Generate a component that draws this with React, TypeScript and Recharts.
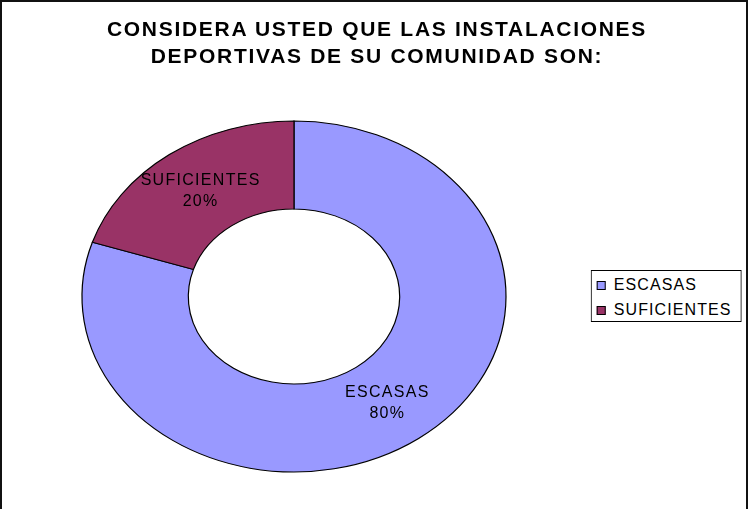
// Donut chart: "Considera usted que las instalaciones deportivas de su comunidad son"
// The original is an Excel-style stretched (elliptical) donut, so the pie is
// drawn as a circle and the chart wrapper is stretched horizontally; text is
// counter-scaled so it keeps its normal proportions.

import { Legend, Pie, PieChart, Cell } from "recharts";

const TITLE_LINES = [
  "CONSIDERA USTED QUE LAS INSTALACIONES",
  "DEPORTIVAS DE SU COMUNIDAD SON:",
];
const CATEGORIES = ["ESCASAS", "SUFICIENTES"];
const PERCENTS = [80, 20];
const COLORS = ["#9999FF", "#993366"];

const FONT = "'Liberation Sans', Arial, sans-serif";
// horizontal stretch of the ellipse (rx / ry)
const K = 212 / 175.5;
const WIDTH = 749;
const HEIGHT = 509;
const MARGIN = { top: 0, right: 0, bottom: 0, left: 0 };

const data = CATEGORIES.map((name, i) => ({
  name,
  value: PERCENTS[i],
  color: COLORS[i],
}));

function SliceLabel(props: any) {
  const { cx, cy, midAngle, innerRadius, outerRadius, name, value } = props;
  const r = (innerRadius + outerRadius) / 2;
  const rad = Math.PI / 180;
  const x = cx + r * Math.cos(-midAngle * rad);
  const y = cy + r * Math.sin(-midAngle * rad);
  return (
    <g transform={`translate(${x},${y}) scale(${1 / K},1)`}>
      <text
        textAnchor="middle"
        fontFamily={FONT}
        fontSize={16}
        letterSpacing={1.3}
        fill="#000"
      >
        <tspan x={0} dy={-5.5}>
          {name}
        </tspan>
        <tspan x={0} dy={21}>
          {value}%
        </tspan>
      </text>
    </g>
  );
}

function LegendBox() {
  return (
    <div
      style={{
        width: 149,
        height: 50,
        border: "1px solid #000",
        background: "#fff",
        fontFamily: FONT,
        fontSize: 16,
        letterSpacing: 1.1,
        boxSizing: "content-box",
      }}
    >
      {data.map((d, i) => (
        <div
          key={d.name}
          style={{
            position: "absolute",
            left: 6,
            top: 5 + i * 25,
            height: 20,
            display: "flex",
            alignItems: "center",
            whiteSpace: "nowrap",
          }}
        >
          <span
            style={{
              display: "inline-block",
              width: 7,
              height: 7,
              border: "1px solid #000",
              background: d.color,
              marginRight: 8,
            }}
          />
          <span>{d.name}</span>
        </div>
      ))}
    </div>
  );
}

export default function App() {
  const localWidth = WIDTH / K;
  return (
    <div
      style={{
        position: "absolute",
        left: 0,
        top: 0,
        width: WIDTH,
        height: HEIGHT,
        overflow: "hidden",
        background: "#fff",
      }}
    >
      <div
        style={{
          position: "absolute",
          left: 0,
          top: 0,
          width: localWidth,
          height: HEIGHT,
          transform: `scaleX(${K})`,
          transformOrigin: "0 0",
        }}
      >
        <PieChart width={localWidth} height={HEIGHT} margin={MARGIN}>
          <Pie
            data={data}
            dataKey="value"
            nameKey="name"
            cx={294 / K}
            cy={296.5}
            outerRadius={175.5}
            innerRadius={87.5}
            startAngle={90}
            endAngle={-270}
            stroke="#000"
            strokeWidth={1}
            label={SliceLabel}
            labelLine={false}
            isAnimationActive={false}
          >
            {data.map((d) => (
              <Cell key={d.name} fill={d.color} />
            ))}
          </Pie>
          <Legend
            content={<LegendBox />}
            wrapperStyle={{
              left: 591 / K,
              top: 270,
              width: "auto",
              bottom: "auto",
              transform: `scaleX(${1 / K})`,
              transformOrigin: "0 0",
            }}
          />
        </PieChart>
      </div>
      <div
        style={{
          position: "absolute",
          left: 0,
          top: 0,
          width: 744,
          height: 540,
          border: "2px solid #111",
          pointerEvents: "none",
        }}
      />
      <div
        style={{
          position: "absolute",
          left: 0,
          top: 15,
          width: 754,
          textAlign: "center",
          fontFamily: FONT,
          fontWeight: "bold",
          fontSize: 21,
          lineHeight: "27px",
          letterSpacing: 1.7,
          color: "#000",
        }}
      >
        {TITLE_LINES.map((line) => (
          <div key={line}>{line}</div>
        ))}
      </div>
    </div>
  );
}
